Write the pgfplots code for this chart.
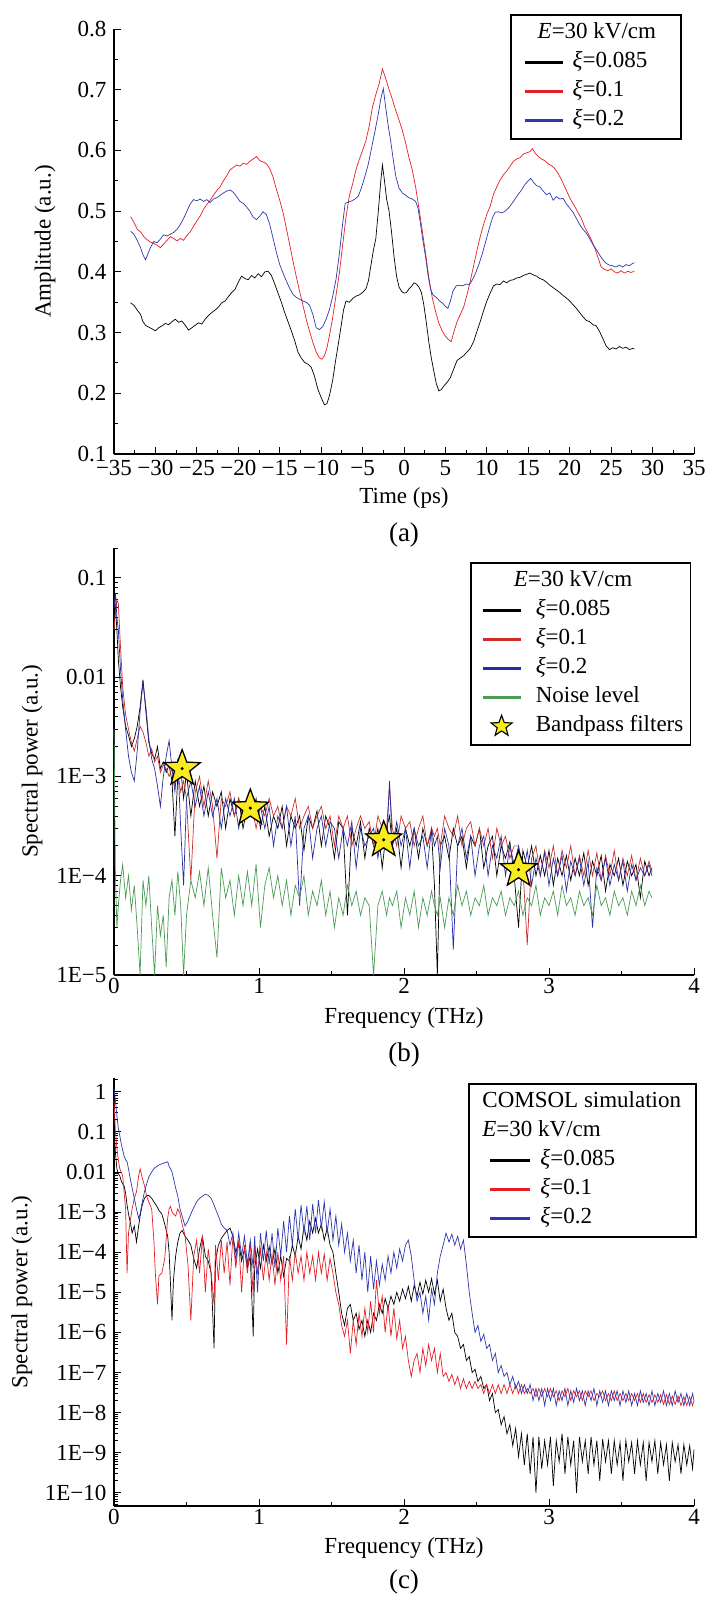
\documentclass[border=0pt]{standalone}
\usepackage{pgfplots}
\pgfplotsset{compat=1.18}
\usepackage{pgfplotstable}
\usepackage{fontspec}
\setmainfont{Liberation Serif}

\definecolor{ra}{RGB}{228,30,36}
\definecolor{ba}{RGB}{45,55,175}
\definecolor{rb}{RGB}{205,45,45}
\definecolor{bb}{RGB}{40,45,165}
\definecolor{gb}{RGB}{75,155,85}
\definecolor{sy}{RGB}{250,235,30}

\pgfdeclareplotmark{fivestar}{%
  \pgfpathmoveto{\pgfpointpolar{90}{\pgfplotmarksize}}%
  \pgfpathlineto{\pgfpointpolar{126}{0.42\pgfplotmarksize}}%
  \pgfpathlineto{\pgfpointpolar{162}{\pgfplotmarksize}}%
  \pgfpathlineto{\pgfpointpolar{198}{0.42\pgfplotmarksize}}%
  \pgfpathlineto{\pgfpointpolar{234}{\pgfplotmarksize}}%
  \pgfpathlineto{\pgfpointpolar{270}{0.42\pgfplotmarksize}}%
  \pgfpathlineto{\pgfpointpolar{306}{\pgfplotmarksize}}%
  \pgfpathlineto{\pgfpointpolar{342}{0.42\pgfplotmarksize}}%
  \pgfpathlineto{\pgfpointpolar{18}{\pgfplotmarksize}}%
  \pgfpathlineto{\pgfpointpolar{54}{0.42\pgfplotmarksize}}%
  \pgfpathclose
  \pgfusepathqfillstroke
}

% ---------- panel (a) ----------
\pgfplotstableread{
x y
-33.0 0.349
-32.6 0.345
-32.2 0.337
-31.8 0.330
-31.5 0.318
-31.2 0.312
-30.8 0.309
-30.4 0.306
-30.0 0.303
-29.6 0.308
-29.2 0.311
-28.8 0.315
-28.4 0.313
-28.0 0.318
-27.6 0.322
-27.2 0.317
-26.8 0.319
-26.4 0.312
-26.0 0.304
-25.6 0.308
-25.2 0.312
-24.8 0.316
-24.4 0.314
-24.0 0.322
-23.6 0.328
-23.2 0.333
-22.8 0.337
-22.4 0.342
-22.0 0.349
-21.6 0.352
-21.2 0.359
-20.8 0.366
-20.4 0.371
-20.0 0.383
-19.6 0.393
-19.2 0.389
-18.8 0.387
-18.4 0.394
-18.0 0.390
-17.6 0.397
-17.2 0.392
-16.8 0.400
-16.4 0.401
-16.0 0.394
-15.6 0.380
-15.2 0.365
-14.8 0.350
-14.4 0.333
-14.0 0.318
-13.6 0.303
-13.2 0.287
-12.8 0.268
-12.4 0.258
-12.0 0.251
-11.6 0.248
-11.2 0.243
-10.8 0.228
-10.4 0.207
-10.0 0.193
-9.6 0.181
-9.3 0.183
-9.0 0.196
-8.6 0.222
-8.3 0.250
-8.0 0.275
-7.6 0.310
-7.3 0.337
-7.0 0.352
-6.6 0.350
-6.2 0.356
-5.8 0.360
-5.4 0.362
-5.0 0.366
-4.6 0.372
-4.3 0.385
-4.0 0.410
-3.7 0.435
-3.4 0.455
-3.1 0.500
-2.8 0.550
-2.6 0.576
-2.4 0.555
-2.1 0.520
-1.8 0.500
-1.5 0.465
-1.2 0.425
-0.9 0.393
-0.6 0.375
-0.3 0.368
0.0 0.365
0.3 0.366
0.6 0.372
0.9 0.376
1.2 0.382
1.5 0.380
1.8 0.375
2.1 0.366
2.4 0.345
2.7 0.316
3.0 0.284
3.3 0.258
3.6 0.236
3.9 0.216
4.2 0.204
4.5 0.206
4.8 0.212
5.2 0.218
5.6 0.226
6.0 0.240
6.4 0.254
6.8 0.258
7.2 0.262
7.6 0.268
8.0 0.274
8.4 0.285
8.8 0.302
9.2 0.318
9.6 0.336
10.0 0.352
10.4 0.365
10.8 0.377
11.2 0.380
11.6 0.379
12.0 0.385
12.4 0.382
12.8 0.386
13.2 0.387
13.6 0.390
14.0 0.391
14.4 0.394
14.8 0.396
15.2 0.398
15.6 0.395
16.0 0.393
16.4 0.389
16.8 0.387
17.2 0.383
17.6 0.378
18.0 0.374
18.4 0.370
18.8 0.366
19.2 0.361
19.6 0.357
20.0 0.352
20.4 0.346
20.8 0.340
21.2 0.333
21.6 0.326
22.0 0.320
22.4 0.318
22.8 0.313
23.2 0.311
23.6 0.302
24.0 0.290
24.4 0.278
24.8 0.272
25.2 0.275
25.6 0.273
26.0 0.277
26.4 0.274
26.8 0.276
27.2 0.272
27.6 0.274
27.8 0.273
}\ak

\pgfplotstableread{
x y
-33.0 0.491
-32.6 0.482
-32.2 0.470
-31.8 0.466
-31.4 0.458
-31.0 0.453
-30.6 0.449
-30.2 0.447
-29.8 0.444
-29.4 0.440
-29.0 0.446
-28.6 0.452
-28.2 0.458
-27.8 0.455
-27.4 0.451
-27.0 0.455
-26.6 0.452
-26.2 0.460
-25.8 0.466
-25.4 0.475
-25.0 0.484
-24.6 0.492
-24.2 0.503
-23.8 0.511
-23.4 0.518
-23.0 0.526
-22.6 0.534
-22.2 0.540
-21.8 0.550
-21.4 0.558
-21.0 0.568
-20.6 0.572
-20.2 0.576
-19.8 0.574
-19.4 0.579
-19.0 0.577
-18.6 0.582
-18.2 0.586
-17.8 0.590
-17.4 0.583
-17.0 0.581
-16.6 0.578
-16.2 0.570
-15.8 0.556
-15.4 0.536
-15.0 0.518
-14.6 0.498
-14.2 0.472
-13.8 0.445
-13.4 0.418
-13.0 0.392
-12.6 0.368
-12.2 0.345
-11.8 0.322
-11.4 0.302
-11.0 0.284
-10.6 0.268
-10.2 0.258
-9.9 0.256
-9.6 0.262
-9.3 0.275
-9.0 0.295
-8.6 0.325
-8.2 0.362
-7.8 0.398
-7.4 0.445
-7.0 0.490
-6.6 0.525
-6.2 0.545
-5.8 0.568
-5.4 0.585
-5.0 0.600
-4.6 0.616
-4.2 0.640
-3.8 0.672
-3.4 0.692
-3.0 0.710
-2.6 0.734
-2.2 0.718
-1.8 0.700
-1.4 0.684
-1.0 0.666
-0.6 0.650
-0.2 0.633
0.2 0.612
0.6 0.588
1.0 0.568
1.4 0.540
1.8 0.505
2.2 0.468
2.6 0.431
3.0 0.390
3.4 0.358
3.8 0.335
4.2 0.316
4.6 0.303
5.0 0.294
5.4 0.288
5.7 0.285
6.0 0.300
6.4 0.318
6.8 0.330
7.2 0.342
7.6 0.362
8.0 0.385
8.4 0.410
8.8 0.435
9.2 0.458
9.6 0.478
10.0 0.495
10.4 0.508
10.8 0.528
11.2 0.540
11.6 0.551
12.0 0.560
12.4 0.566
12.8 0.574
13.2 0.582
13.6 0.586
14.0 0.588
14.4 0.594
14.8 0.596
15.2 0.598
15.5 0.603
15.8 0.596
16.2 0.590
16.6 0.586
17.0 0.583
17.4 0.578
17.8 0.575
18.2 0.570
18.6 0.562
19.0 0.552
19.4 0.540
19.8 0.528
20.2 0.517
20.6 0.508
21.0 0.498
21.4 0.488
21.8 0.474
22.2 0.464
22.6 0.453
23.0 0.440
23.4 0.424
23.8 0.408
24.2 0.404
24.6 0.402
25.0 0.405
25.4 0.400
25.8 0.398
26.2 0.402
26.6 0.398
27.0 0.401
27.4 0.399
27.8 0.401
}\ar

\pgfplotstableread{
x y
-33.0 0.467
-32.6 0.462
-32.2 0.452
-31.8 0.440
-31.5 0.428
-31.2 0.420
-30.9 0.430
-30.6 0.440
-30.2 0.450
-29.8 0.448
-29.4 0.454
-29.0 0.461
-28.6 0.459
-28.2 0.462
-27.8 0.465
-27.4 0.470
-27.0 0.478
-26.6 0.488
-26.2 0.500
-25.8 0.512
-25.4 0.519
-25.0 0.517
-24.6 0.520
-24.2 0.516
-23.8 0.519
-23.4 0.514
-23.0 0.520
-22.6 0.522
-22.2 0.526
-21.8 0.530
-21.4 0.533
-21.0 0.535
-20.6 0.531
-20.2 0.524
-19.8 0.516
-19.4 0.513
-19.0 0.507
-18.6 0.500
-18.2 0.490
-17.8 0.486
-17.4 0.492
-17.0 0.499
-16.6 0.494
-16.2 0.478
-15.8 0.455
-15.4 0.432
-15.0 0.412
-14.6 0.398
-14.2 0.385
-13.8 0.373
-13.4 0.363
-13.0 0.358
-12.6 0.355
-12.2 0.352
-11.8 0.350
-11.4 0.345
-11.0 0.330
-10.6 0.308
-10.2 0.305
-9.8 0.310
-9.4 0.322
-9.0 0.338
-8.6 0.360
-8.2 0.388
-7.8 0.430
-7.4 0.480
-7.1 0.513
-6.7 0.515
-6.3 0.517
-5.9 0.520
-5.5 0.525
-5.1 0.540
-4.7 0.558
-4.3 0.578
-3.9 0.605
-3.5 0.632
-3.1 0.660
-2.8 0.685
-2.5 0.702
-2.2 0.670
-1.9 0.640
-1.6 0.615
-1.3 0.585
-1.0 0.558
-0.6 0.538
-0.2 0.530
0.2 0.526
0.6 0.522
1.0 0.520
1.4 0.516
1.7 0.505
2.0 0.478
2.3 0.450
2.6 0.425
2.9 0.395
3.2 0.372
3.5 0.362
3.9 0.358
4.3 0.352
4.7 0.348
5.0 0.343
5.3 0.340
5.6 0.352
5.9 0.368
6.3 0.377
6.7 0.378
7.1 0.377
7.5 0.380
7.9 0.379
8.3 0.388
8.7 0.400
9.1 0.415
9.5 0.432
9.9 0.452
10.3 0.472
10.7 0.490
11.0 0.498
11.4 0.499
11.8 0.497
12.2 0.500
12.6 0.505
13.0 0.512
13.4 0.520
13.8 0.528
14.2 0.535
14.6 0.544
15.0 0.550
15.3 0.554
15.6 0.548
16.0 0.542
16.4 0.540
16.8 0.533
17.2 0.527
17.6 0.530
18.0 0.518
18.4 0.524
18.8 0.520
19.2 0.521
19.6 0.512
20.0 0.505
20.4 0.498
20.8 0.488
21.2 0.478
21.6 0.470
22.0 0.464
22.4 0.455
22.8 0.445
23.2 0.437
23.6 0.428
24.0 0.420
24.4 0.414
24.8 0.411
25.2 0.410
25.6 0.408
26.0 0.411
26.4 0.408
26.8 0.412
27.2 0.410
27.6 0.414
27.8 0.415
}\ab

% ---------- panel (b) ----------
\pgfplotstableread{
x k r b g
0.000 0.080 0.030 0.050 0.0030
0.010 0.050 0.045 0.070 0.0001
0.020 0.030 0.060 0.040 0.00003
0.030 0.015 0.055 0.030 0.00005
0.045 0.008 0.020 0.012 0.00009
0.060 0.005 0.008 0.006 0.00013
0.080 0.0032 0.0042 0.0030 0.00006
0.100 0.0026 0.0030 0.0016 0.0001
0.120 0.0020 0.0022 0.0011 0.000045
0.140 0.0024 0.0018 0.0009 0.00008
0.160 0.0032 0.0024 0.0018 0.00003
0.180 0.0050 0.0032 0.0045 0.00001
0.200 0.0094 0.0028 0.0088 0.00009
0.220 0.0045 0.0022 0.0050 0.00005
0.240 0.0022 0.0016 0.0024 0.0001
0.260 0.0017 0.0019 0.0015 0.00003
0.280 0.0015 0.0014 0.0012 0.00001
0.300 0.0020 0.0016 0.0008 0.00005
0.320 0.0012 0.0011 0.0005 0.000025
0.340 0.0014 0.0013 0.0010 0.00004
0.360 0.0011 0.0012 0.0016 0.000012
0.380 0.0013 0.0010 0.0023 0.00006
0.400 0.0009 0.0012 0.0012 0.00009
0.420 0.00025 0.0008 0.0007 0.00004
0.440 0.0010 0.0011 0.0015 0.00011
0.460 0.0012 0.0007 0.0003 0.00005
0.480 0.0006 0.0009 0.00008 0.00001
0.500 0.0011 0.0006 0.0006 0.00004
0.530 0.0004 0.00009 0.0009 0.00009
0.560 0.0009 0.0007 0.0005 0.00006
0.590 0.0005 0.0010 0.0008 0.00011
0.620 0.0008 0.0005 0.0004 0.00005
0.650 0.0004 0.0009 0.0007 0.00012
0.680 0.0007 0.0005 0.0004 0.00004
0.710 0.0005 0.00015 0.0006 0.000015
0.740 0.0007 0.0006 0.0003 0.00012
0.770 0.0003 0.0005 0.0006 0.00006
0.800 0.0006 0.0007 0.0004 0.00009
0.830 0.0004 0.0004 0.0006 0.00004
0.860 0.0006 0.0006 0.0003 0.00010
0.890 0.0003 0.0004 0.0005 0.00005
0.920 0.0005 0.0006 0.0004 0.00011
0.950 0.0004 0.0005 0.0006 0.00005
0.980 0.0006 0.0003 0.0004 0.00013
1.010 0.0003 0.0005 0.0005 0.00003
1.040 0.0005 0.0004 0.0003 0.00008
1.070 0.00025 0.0006 0.0005 0.00012
1.100 0.0004 0.0004 0.0002 0.00006
1.130 0.0003 0.0005 0.0004 0.00010
1.160 0.0005 0.0003 0.0003 0.00005
1.190 0.0002 0.0005 0.0005 0.00009
1.220 0.0004 0.0004 0.0002 0.00004
1.250 0.0003 0.0006 0.0004 0.00008
1.280 0.0004 0.0003 0.00005 0.00006
1.310 0.00018 0.0004 0.0003 0.00010
1.340 0.0004 0.0005 0.0004 0.00004
1.370 0.0003 0.0003 0.00015 0.00007
1.400 0.00045 0.0004 0.0003 0.00005
1.430 0.0002 0.0005 0.0004 0.00009
1.460 0.0004 0.0003 0.0002 0.00004
1.490 0.0003 0.0004 0.00035 0.00007
1.520 0.00015 0.0002 0.0003 0.00003
1.550 0.00035 0.0004 0.00015 0.00006
1.580 0.0003 0.0003 0.0003 0.00004
1.610 0.00004 0.0004 0.0002 0.00008
1.640 0.0003 0.0002 0.00035 0.00005
1.670 0.0002 0.0003 0.00012 0.00007
1.700 0.00035 0.0004 0.0003 0.00004
1.730 0.00015 0.0003 0.0002 0.00006
1.760 0.0003 0.00035 0.00025 0.00005
1.790 0.0002 0.0002 0.0003 0.00001
1.820 0.0003 0.0004 0.00015 0.00005
1.850 0.00012 0.0003 0.0003 0.00007
1.880 0.0003 0.0003 0.0002 0.00004
1.900 0.0004 0.0008 0.0009 0.00006
1.920 0.0002 0.0003 0.0002 0.00005
1.950 0.0003 0.0002 0.00035 0.00007
1.980 0.00012 0.0004 0.0002 0.00003
2.010 0.0003 0.0003 0.0003 0.00006
2.040 0.0002 0.00035 0.00012 0.00004
2.070 0.0003 0.0002 0.0003 0.00007
2.100 0.00015 0.0003 0.0002 0.00003
2.130 0.0003 0.0004 0.00025 0.00006
2.160 0.0002 0.0002 0.00012 0.00004
2.190 0.00028 0.0003 0.0003 0.00007
2.210 0.00008 0.00025 0.0002 0.00005
2.230 0.00001 0.0003 0.00025 0.00004
2.250 0.0002 0.0002 0.00012 0.00006
2.280 0.00025 0.0004 0.0003 0.00003
2.310 0.00015 0.0003 0.0002 0.00006
2.340 0.0003 0.00025 0.000018 0.00004
2.370 0.0002 0.0004 0.0002 0.00008
2.400 0.00025 0.0002 0.0003 0.00005
2.430 0.00012 0.0003 0.00015 0.00007
2.460 0.00025 0.00035 0.00025 0.00004
2.490 0.0002 0.0002 0.0001 0.00006
2.520 0.0003 0.0003 0.0002 0.00005
2.550 0.00012 0.0002 0.00025 0.00008
2.580 0.0002 0.0003 0.0001 0.00004
2.610 0.00025 0.00015 0.0002 0.00006
2.640 0.0001 0.0003 0.00015 0.00005
2.670 0.0002 0.0002 0.00025 0.00007
2.700 0.00015 0.00025 0.0001 0.00004
2.730 0.00022 0.00015 0.0002 0.00006
2.760 0.0001 0.0002 0.00013 0.00005
2.790 0.00003 0.0002 0.0002 0.00007
2.820 0.00018 0.00012 0.0001 0.00004
2.850 0.00012 0.00002 0.00018 0.00006
2.880 0.0002 0.00015 0.00008 0.00005
2.910 0.0001 0.0002 0.00015 0.00008
2.940 0.00016 0.0001 0.0001 0.00004
2.970 0.0001 0.00018 0.00017 0.00006
3.000 0.00018 0.00012 0.00008 0.00005
3.030 0.00008 0.0002 0.00015 0.00007
3.060 0.00015 0.0001 0.0001 0.00004
3.090 0.0001 0.00018 0.00016 0.00008
3.120 0.00016 0.00012 0.00007 0.00005
3.150 0.00009 0.0002 0.00014 0.00006
3.180 0.00015 0.0001 0.0001 0.00004
3.210 0.0001 0.00016 0.00015 0.00007
3.240 0.00017 0.0001 0.00008 0.00005
3.270 0.00008 0.00018 0.00014 0.00006
3.300 0.00014 0.0001 0.00003 0.00004
3.330 0.0001 0.00017 0.00012 0.00008
3.360 0.00016 0.00009 0.00009 0.00005
3.390 0.00007 0.00016 0.00015 0.00006
3.420 0.00013 0.0001 0.00008 0.00004
3.450 0.0001 0.00018 0.00013 0.00007
3.480 0.00015 0.00009 0.00009 0.00005
3.510 0.00008 0.00015 0.00014 0.00006
3.540 0.00014 0.0001 0.00007 0.00004
3.570 0.0001 0.00016 0.00013 0.00007
3.600 0.00013 0.00009 0.00009 0.00005
3.630 0.00006 0.00015 0.00012 0.00008
3.660 0.00014 0.0001 0.0001 0.00005
3.690 0.0001 0.00014 0.00013 0.00007
3.710 0.00012 0.00011 0.0001 0.00006
}\specb

% ---------- panel (c) ----------
\pgfplotstableread{
x k r b
0.000 0.12 0.6 1.2
0.010 0.03 0.1 0.6
0.020 0.012 0.04 0.25
0.030 0.009 0.02 0.12
0.040 0.008 0.012 0.08
0.050 0.006 0.010 0.05
0.060 0.005 0.008 0.035
0.070 0.0045 0.003 0.025
0.080 0.003 0.0012 0.02
0.090 0.0015 3e-5 0.018
0.100 0.0009 3e-4 0.012
0.115 5e-4 7e-4 0.006
0.125 3e-4 0.0012 0.004
0.140 4.5e-4 0.0022 0.0022
0.155 1.8e-4 0.0032 0.0012
0.170 4.5e-4 0.008 7e-4
0.180 8e-4 0.012 9e-4
0.195 0.0015 0.007 0.0018
0.210 0.0022 0.0046 0.0032
0.225 0.0026 0.0025 0.005
0.240 0.0026 0.0018 0.0075
0.260 0.0022 0.0012 0.010
0.275 0.0018 2e-4 0.012
0.285 0.0016 3e-5 0.013
0.300 0.0013 5e-6 0.014
0.310 0.0011 2.6e-5 0.015
0.330 9e-4 3e-5 0.016
0.350 5e-4 7e-5 0.017
0.370 2.5e-4 7e-4 0.018
0.380 1e-4 0.0012 0.014
0.390 1.5e-5 0.0014 0.012
0.400 2e-6 0.0010 0.010
0.410 2e-5 9e-4 0.007
0.425 8e-5 8e-4 0.004
0.440 1.8e-4 0.0012 0.0025
0.455 3e-4 9e-4 0.0012
0.470 3.5e-4 5e-4 8e-4
0.490 2.5e-4 2.6e-4 4.5e-4
0.510 2e-4 5e-5 6e-4
0.530 1.5e-4 2e-6 9e-4
0.550 7e-5 8e-5 0.0013
0.570 4e-5 2e-4 0.0018
0.590 1.2e-4 3e-5 0.0022
0.610 2.5e-4 2.5e-4 0.0025
0.630 8e-5 1e-5 0.0028
0.650 6e-5 1.2e-4 0.0026
0.670 3e-5 3e-5 0.0022
0.690 4e-7 5e-6 0.0015
0.700 6e-5 1.5e-4 0.0012
0.720 1.5e-4 2e-5 8e-4
0.740 2.2e-4 2e-4 5e-4
0.760 2.8e-4 3e-5 4e-4
0.780 3.5e-4 1.8e-4 3.5e-4
0.800 4e-4 1.5e-5 1.5e-4
0.820 2.5e-4 2.5e-4 3e-4
0.840 1e-4 4e-5 6e-5
0.860 1.8e-4 2e-4 3e-4
0.880 6e-5 1e-5 8e-5
0.900 1.2e-4 1.5e-4 2.5e-4
0.920 4e-5 3e-5 5e-5
0.940 8e-5 1.8e-4 2e-4
0.960 8e-7 8e-6 4e-5
0.970 4e-5 1.5e-4 2.5e-4
0.990 1.2e-4 3e-5 1e-5
1.010 4e-5 1.2e-4 3e-4
1.030 1.5e-4 2e-5 6e-5
1.050 6e-5 1e-4 3.5e-4
1.070 1.4e-4 2e-5 5e-5
1.090 5e-5 9e-5 3e-4
1.110 1.2e-4 1.5e-5 4e-5
1.130 3e-5 1e-4 4e-4
1.150 8e-5 2e-5 8e-5
1.170 2.5e-5 8e-5 6e-4
1.190 7e-5 5e-7 1e-4
1.210 6e-5 8e-5 8e-4
1.230 1.5e-4 2e-5 1.5e-4
1.250 8e-5 1e-4 0.0012
1.270 2.5e-4 3e-5 2e-4
1.290 1.2e-4 8e-5 0.0015
1.310 4.5e-4 2e-5 3e-4
1.330 2e-4 1e-4 0.0014
1.350 6e-4 3e-5 2e-4
1.370 3e-4 8e-5 0.0016
1.390 7e-4 2e-5 3e-4
1.410 3e-4 1e-4 0.002
1.430 5e-4 3e-5 4e-4
1.450 2e-4 9e-5 0.0018
1.470 4e-4 2e-5 3e-4
1.490 1.5e-4 7e-5 0.0012
1.510 1e-4 3e-5 2e-4
1.530 3e-5 1e-5 8e-4
1.550 1e-5 5e-6 1.5e-4
1.570 3e-6 1.5e-6 5e-4
1.590 1.5e-6 8e-7 1e-4
1.610 4e-6 2e-6 3e-4
1.630 5e-6 3e-7 6e-5
1.650 2e-6 2e-6 2e-4
1.670 3e-6 5e-7 3e-5
1.690 1.2e-6 3e-6 1.5e-4
1.710 2e-6 8e-7 2e-5
1.730 8e-7 4e-6 1e-4
1.750 2e-6 1e-6 1e-5
1.770 1e-6 6e-6 8e-5
1.790 3e-6 1e-6 1.2e-5
1.810 2e-6 2e-5 6e-5
1.830 5e-6 3e-6 1.5e-5
1.850 3e-6 8e-6 5e-5
1.870 7e-6 1e-6 2e-5
1.890 4e-6 5e-6 8e-5
1.910 8e-6 8e-7 3e-5
1.930 5e-6 4e-6 1e-4
1.950 1e-5 7e-7 4e-5
1.970 6e-6 2e-6 1.2e-4
1.990 1.2e-5 4e-7 6e-5
2.010 7e-6 8e-7 1.5e-4
2.030 1.4e-5 2e-7 2e-4
2.050 6e-6 8e-8 8e-5
2.070 1.5e-5 2e-7 2e-5
2.090 8e-6 3e-7 6e-6
2.110 1.8e-5 1e-7 1e-5
2.130 9e-6 4e-7 3e-6
2.150 2e-5 1.5e-7 8e-6
2.170 1e-5 5e-7 2e-6
2.190 2.2e-5 2e-7 1.2e-5
2.210 9e-6 4e-7 5e-6
2.230 2e-5 1e-7 3e-5
2.250 6e-6 3e-7 8e-5
2.270 1.2e-5 8e-8 1.5e-4
2.290 4e-6 1e-7 3e-4
2.310 2e-6 6e-8 1.8e-4
2.330 3e-6 9e-8 2.8e-4
2.350 1e-6 5e-8 1.5e-4
2.370 8e-7 8e-8 2.5e-4
2.390 4e-7 4e-8 1.2e-4
2.410 5e-7 7e-8 2e-4
2.430 2e-7 4e-8 5e-5
2.450 2.5e-7 6e-8 1e-5
2.470 1e-7 4e-8 3e-6
2.490 1.2e-7 6e-8 1e-6
2.510 6e-8 4e-8 1.5e-6
2.530 8e-8 5e-8 6e-7
2.550 4e-8 3e-8 9e-7
2.570 5e-8 5e-8 4e-7
2.590 2e-8 3e-8 5e-7
2.610 3e-8 5e-8 2e-7
2.630 1e-8 3e-8 3e-7
2.650 1.2e-8 5e-8 1e-7
2.670 5e-9 3e-8 1.5e-7
2.690 8e-9 5e-8 8e-8
2.710 3e-9 3e-8 1e-7
2.730 5e-9 5e-8 5e-8
2.750 1.5e-9 3e-8 8e-8
2.770 4e-9 5e-8 4e-8
2.790 8e-10 3e-8 6e-8
2.810 3e-9 5e-8 3e-8
2.830 5e-10 3e-8 5e-8
2.850 3e-9 4e-8 3e-8
2.870 3e-10 3e-8 5e-8
2.890 2.5e-9 4e-8 2e-8
2.910 1e-10 2.5e-8 4e-8
2.930 2.5e-9 4e-8 2e-8
2.950 4e-10 2.5e-8 4e-8
2.970 2e-9 4e-8 1.5e-8
2.990 5e-10 2.5e-8 4e-8
3.010 2.5e-9 4e-8 2e-8
3.030 1.5e-10 2.5e-8 4e-8
3.050 2e-9 3.5e-8 1.5e-8
3.070 6e-10 2e-8 3.5e-8
3.090 3e-9 3.5e-8 2e-8
3.110 3e-10 2.5e-8 4e-8
3.130 2.5e-9 4e-8 1.5e-8
3.150 5e-10 2e-8 3.5e-8
3.170 2e-9 3.5e-8 1.8e-8
3.190 1e-10 2.5e-8 4e-8
3.210 2.5e-9 3.5e-8 2e-8
3.230 6e-10 2e-8 3.5e-8
3.250 2e-9 3.5e-8 1.5e-8
3.270 3e-10 2.5e-8 3.5e-8
3.290 2.5e-9 3.5e-8 2e-8
3.310 5e-10 2e-8 4e-8
3.330 2e-9 3e-8 1.5e-8
3.350 2e-10 2.5e-8 3.5e-8
3.370 2.2e-9 3.5e-8 1.8e-8
3.390 6e-10 2e-8 3.5e-8
3.410 2e-9 3e-8 1.5e-8
3.430 3e-10 2e-8 3.5e-8
3.450 2e-9 3.5e-8 2e-8
3.470 5e-10 2e-8 3.5e-8
3.490 1.8e-9 3e-8 1.5e-8
3.510 2e-10 2e-8 3.5e-8
3.530 2e-9 3e-8 1.8e-8
3.550 6e-10 2e-8 3.5e-8
3.570 1.8e-9 3e-8 1.5e-8
3.590 3e-10 2e-8 3e-8
3.610 2e-9 3e-8 1.5e-8
3.630 5e-10 1.8e-8 3.5e-8
3.650 1.8e-9 3e-8 1.8e-8
3.670 2e-10 1.8e-8 3e-8
3.690 1.8e-9 2.8e-8 1.5e-8
3.710 6e-10 1.8e-8 3.5e-8
3.730 2e-9 2.8e-8 1.5e-8
3.750 3e-10 1.8e-8 3e-8
3.770 1.8e-9 2.8e-8 1.8e-8
3.790 5e-10 1.6e-8 3.5e-8
3.810 1.6e-9 2.8e-8 1.5e-8
3.830 2e-10 1.6e-8 3e-8
3.850 1.8e-9 2.6e-8 1.5e-8
3.870 6e-10 1.6e-8 3.5e-8
3.890 1.6e-9 2.6e-8 1.8e-8
3.910 3e-10 1.5e-8 3e-8
3.930 1.6e-9 2.5e-8 1.5e-8
3.950 5e-10 1.5e-8 3e-8
3.970 1.5e-9 2.5e-8 1.5e-8
3.990 4e-10 1.5e-8 3e-8
4.000 1.2e-9 2e-8 2e-8
}\specc

\pgfplotsset{
  myax/.style={
    scale only axis, width=580pt, anchor=south west,
    axis x line*=bottom, axis y line*=left,
    axis line style={-, line width=1.2pt},
    tick align=inside, xtick pos=bottom, ytick pos=left,
    major tick length=7pt, minor tick length=4pt,
    tick style={black, line width=0.9pt},
    font=\fontsize{23}{27}\selectfont,
    yticklabel style={xshift=-4pt},
    clip=false,
    legend cell align=left,
    legend style={draw=black, line width=1.5pt, font=\fontsize{23}{27}\selectfont,
      anchor=north east, inner xsep=5pt, inner ysep=5pt, row sep=2pt,
      nodes={inner sep=2pt, text height=17pt, text depth=6pt, anchor=west}},
    every axis plot/.append style={line width=0.7pt},
  },
  starleg/.style={legend image code/.code={%
    \path (0pt,0pt);
    \draw[mark=fivestar, mark size=11pt, mark options={fill=sy, draw=black, line width=1.1pt}]
      plot coordinates {(25pt,0pt)};}},
}

\begin{document}
\begin{tikzpicture}
\path[use as bounding box] (0pt,0pt) rectangle (710pt,-1598pt);

% ===== (a) =====
\begin{axis}[myax, at={(114pt,-454pt)}, height=425pt,
  xmin=-35, xmax=35, ymin=0.1, ymax=0.8,
  xtick={-35,-30,-25,-20,-15,-10,-5,0,5,10,15,20,25,30,35},
  xticklabels={−35,−30,−25,−20,−15,−10,−5,0,5,10,15,20,25,30,35},
  xticklabel style={yshift=-2.5pt},
  minor x tick num=1,
  ytick={0.1,0.2,0.3,0.4,0.5,0.6,0.7,0.8},
  yticklabels={0.1,0.2,0.3,0.4,0.5,0.6,0.7,0.8},
  minor y tick num=1,
  xlabel={Time (ps)}, ylabel={Amplitude (a.u.)},
  xlabel style={at={(axis description cs:0.5,-0.1035)}, anchor=center},
  ylabel style={at={(axis description cs:-0.119,0.5)}, anchor=center},
  legend style={at={(0.979,1.035)}, column sep=7pt},
  legend image code/.code={\path (0pt,0pt); \draw[#1, line width=2.4pt] (8pt,0pt) -- (46pt,0pt);},
]
\addplot[black, forget plot] table[x=x,y=y] {\ak};
\addplot[ra, forget plot] table[x=x,y=y] {\ar};
\addplot[ba, forget plot] table[x=x,y=y] {\ab};
\addlegendimage{empty legend}\addlegendentry{\hspace*{-35pt}\textit{E}=30 kV/cm\hspace*{18pt}}
\addlegendimage{black}\addlegendentry{\textit{ξ}=0.085}
\addlegendimage{ra}\addlegendentry{\textit{ξ}=0.1}
\addlegendimage{ba}\addlegendentry{\textit{ξ}=0.2}
\node[font=\fontsize{27}{30}\selectfont] at (rel axis cs:0.5,-0.19) {(a)};
\end{axis}

% ===== (b) =====
\begin{axis}[myax, at={(114pt,-975pt)}, height=427pt,
  ymode=log, xmin=0, xmax=4, ymin=1e-5, ymax=0.2,
  xtick={0,1,2,3,4}, xticklabels={0,1,2,3,4}, minor x tick num=1,
  ytick={1e-5,1e-4,1e-3,1e-2,1e-1},
  yticklabels={1E−5,1E−4,1E−3,0.01,0.1},
  minor ytick={2e-5,3e-5,4e-5,5e-5,6e-5,7e-5,8e-5,9e-5,
    2e-4,3e-4,4e-4,5e-4,6e-4,7e-4,8e-4,9e-4,
    2e-3,3e-3,4e-3,5e-3,6e-3,7e-3,8e-3,9e-3,
    2e-2,3e-2,4e-2,5e-2,6e-2,7e-2,8e-2,9e-2,0.2},
  xlabel={Frequency (THz)}, ylabel={Spectral power (a.u.)},
  xlabel style={at={(axis description cs:0.5,-0.1007)}, anchor=center},
  ylabel style={at={(axis description cs:-0.141,0.5)}, anchor=center},
  legend style={at={(0.995,0.967)}, column sep=12pt},
  legend image code/.code={\path (0pt,0pt); \draw[#1, line width=2.4pt] (6pt,0pt) -- (44pt,0pt);},
]
\addplot[black, forget plot] table[x=x,y=k] {\specb};
\addplot[rb, forget plot] table[x=x,y=r] {\specb};
\addplot[bb, forget plot] table[x=x,y=b] {\specb};
\addplot[gb, forget plot] table[x=x,y=g] {\specb};
\addplot[only marks, mark=fivestar, mark size=19pt,
  mark options={fill=sy, draw=black, line width=1.3pt}, forget plot]
  coordinates {(0.47,1.2e-3) (0.94,4.8e-4) (1.86,2.3e-4) (2.79,1.15e-4)};
\addplot[only marks, mark=*, mark size=1.2pt, black, forget plot]
  coordinates {(0.47,1.2e-3) (0.94,4.8e-4) (1.86,2.3e-4) (2.79,1.15e-4)};
\addlegendimage{empty legend}\addlegendentry{\hspace*{-22pt}\textit{E}=30 kV/cm}
\addlegendimage{black}\addlegendentry{\textit{ξ}=0.085}
\addlegendimage{rb}\addlegendentry{\textit{ξ}=0.1}
\addlegendimage{bb}\addlegendentry{\textit{ξ}=0.2}
\addlegendimage{gb}\addlegendentry{Noise level}
\addlegendimage{starleg}\addlegendentry{Bandpass filters}
\node[font=\fontsize{27}{30}\selectfont] at (rel axis cs:0.5,-0.187) {(b)};
\end{axis}

% ===== (c) =====
\begin{axis}[myax, at={(114pt,-1506pt)}, height=428pt,
  ymode=log, xmin=0, xmax=4, ymin=4.7e-11, ymax=2.2,
  xtick={0,1,2,3,4}, xticklabels={0,1,2,3,4}, minor x tick num=1,
  ytick={1e-10,1e-9,1e-8,1e-7,1e-6,1e-5,1e-4,1e-3,1e-2,1e-1,1},
  yticklabels={1E−10,1E−9,1E−8,1E−7,1E−6,1E−5,1E−4,1E−3,0.01,0.1,1},
  minor ytick={5e-11,6e-11,7e-11,8e-11,9e-11,
    2e-10,3e-10,4e-10,5e-10,6e-10,7e-10,8e-10,9e-10,
    2e-9,3e-9,4e-9,5e-9,6e-9,7e-9,8e-9,9e-9,
    2e-8,3e-8,4e-8,5e-8,6e-8,7e-8,8e-8,9e-8,
    2e-7,3e-7,4e-7,5e-7,6e-7,7e-7,8e-7,9e-7,
    2e-6,3e-6,4e-6,5e-6,6e-6,7e-6,8e-6,9e-6,
    2e-5,3e-5,4e-5,5e-5,6e-5,7e-5,8e-5,9e-5,
    2e-4,3e-4,4e-4,5e-4,6e-4,7e-4,8e-4,9e-4,
    2e-3,3e-3,4e-3,5e-3,6e-3,7e-3,8e-3,9e-3,
    2e-2,3e-2,4e-2,5e-2,6e-2,7e-2,8e-2,9e-2,
    0.2,0.3,0.4,0.5,0.6,0.7,0.8,0.9,2},
  xlabel={Frequency (THz)}, ylabel={Spectral power (a.u.)},
  xlabel style={at={(axis description cs:0.5,-0.098)}, anchor=center},
  ylabel style={at={(axis description cs:-0.159,0.5)}, anchor=center},
  legend style={at={(1.005,0.988)}, column sep=7pt},
  legend image code/.code={\path (0pt,0pt); \draw[#1, line width=2.4pt] (16pt,0pt) -- (56pt,0pt);},
]
\addplot[black, forget plot] table[x=x,y=k] {\specc};
\addplot[ra, forget plot] table[x=x,y=r] {\specc};
\addplot[ba, forget plot] table[x=x,y=b] {\specc};
\addlegendimage{empty legend}\addlegendentry{\hspace*{-58pt}COMSOL simulation\hspace*{8pt}}
\addlegendimage{empty legend}\addlegendentry{\hspace*{-58pt}\textit{E}=30 kV/cm}
\addlegendimage{black}\addlegendentry{\textit{ξ}=0.085}
\addlegendimage{ra}\addlegendentry{\textit{ξ}=0.1}
\addlegendimage{ba}\addlegendentry{\textit{ξ}=0.2}
\node[font=\fontsize{27}{30}\selectfont] at (rel axis cs:0.5,-0.178) {(c)};
\end{axis}
\end{tikzpicture}
\end{document}
